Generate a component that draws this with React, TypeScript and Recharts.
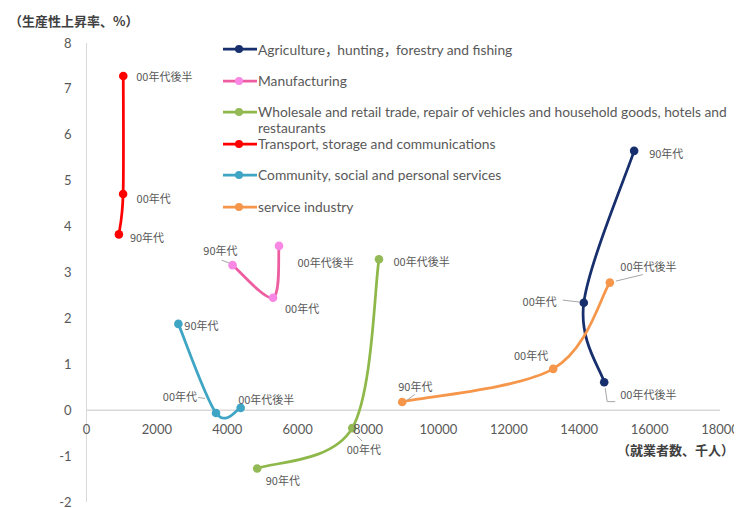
import React from 'react';
import { ScatterChart, Scatter, XAxis, YAxis, ReferenceLine, Legend } from 'recharts';

// Periods shared by every industry series
const periods = ['90年代', '00年代', '00年代後半'];

// Employed persons (thousands) and productivity growth (%) per industry
const agricultureWorkers = [15560, 14130, 14710];
const agricultureGrowth = [5.65, 2.34, 0.61];

const manufacturingWorkers = [4150, 5300, 5470];
const manufacturingGrowth = [3.16, 2.45, 3.58];

const wholesaleWorkers = [4850, 7550, 8310];
const wholesaleGrowth = [-1.27, -0.39, 3.29];

const transportWorkers = [920, 1040, 1045];
const transportGrowth = [3.83, 4.71, 7.28];

const communityWorkers = [2610, 3680, 4380];
const communityGrowth = [1.88, -0.06, 0.05];

const serviceWorkers = [8970, 13260, 14870];
const serviceGrowth = [0.18, 0.9, 2.78];

const xTicks = [0, 2000, 4000, 6000, 8000, 10000, 12000, 14000, 16000, 18000];
const yTicks = [-2, -1, 0, 1, 2, 3, 4, 5, 6, 7, 8];

const X_MIN = 0;
const X_MAX = 18000;
const Y_MIN = -2;
const Y_MAX = 8;

// Layout
const CHART_W = 734;
const CHART_H = 500;
const X_AXIS_H = 1;
const MARGIN = { top: 35, right: 22, bottom: 5, left: 0 };
const Y_AXIS_W = 78.5;
const PLOT_H = CHART_H - MARGIN.top - MARGIN.bottom - X_AXIS_H;
const ZERO_Y = MARGIN.top + (PLOT_H * (Y_MAX - 0)) / (Y_MAX - Y_MIN);

const GRAY_TEXT = '#595959';
const LEADER = '#A6A6A6';
const CJK = '"Noto Sans CJK JP", "Noto Sans", sans-serif';
const LATIN = 'Lato, "Liberation Sans", sans-serif';

type Placement = {
  dx: number;
  dy: number;
  anchor: 'start' | 'end';
  leader?: [number, number][];
};

// Where each period label sits relative to its marker
const labelPlacement: Record<string, Placement[]> = {
  agriculture: [
    { dx: 15, dy: 2, anchor: 'start' },
    { dx: -27, dy: -2, anchor: 'end', leader: [[-21, -2.7], [-4, -0.7]] },
    { dx: 16, dy: 12, anchor: 'start', leader: [[1, 6], [3, 19.4], [11, 19.4]] },
  ],
  manufacturing: [
    { dx: 5, dy: -15, anchor: 'end', leader: [[-11, -5], [-3, -2]] },
    { dx: 12, dy: 10.5, anchor: 'start' },
    { dx: 18.5, dy: 16, anchor: 'start' },
  ],
  wholesale: [
    { dx: 8.5, dy: 11.5, anchor: 'start' },
    { dx: -5.5, dy: 21, anchor: 'start', leader: [[5, 8], [10, 13]] },
    { dx: 14.5, dy: 1.5, anchor: 'start' },
  ],
  transport: [
    { dx: 11, dy: 3, anchor: 'start' },
    { dx: 13.5, dy: 4, anchor: 'start' },
    { dx: 13, dy: 0, anchor: 'start' },
  ],
  community: [
    { dx: 6, dy: 1.5, anchor: 'start' },
    { dx: -19, dy: -16.5, anchor: 'end', leader: [[-18, -15.5], [-11, -14.5]] },
    { dx: -2.5, dy: -9, anchor: 'start' },
  ],
  service: [
    { dx: -4, dy: -15.5, anchor: 'start', leader: [[12.5, -7.5], [4.5, -1.5]] },
    { dx: -5, dy: -14, anchor: 'end' },
    { dx: 10.5, dy: -16.5, anchor: 'start', leader: [[6, -1.5], [33, -8]] },
  ],
};

type Series = {
  key: string;
  name: string[];
  line: string;
  marker: string;
  workers: number[];
  growth: number[];
};

const series: Series[] = [
  { key: 'agriculture', name: ['Agriculture，hunting，forestry and fishing'], line: '#172F6C', marker: '#172F6C', workers: agricultureWorkers, growth: agricultureGrowth },
  { key: 'manufacturing', name: ['Manufacturing'], line: '#EC5E9F', marker: '#F988E4', workers: manufacturingWorkers, growth: manufacturingGrowth },
  { key: 'wholesale', name: ['Wholesale and retail trade, repair of vehicles and household goods, hotels and', 'restaurants'], line: '#8FB84B', marker: '#93BA56', workers: wholesaleWorkers, growth: wholesaleGrowth },
  { key: 'transport', name: ['Transport, storage and communications'], line: '#FF0000', marker: '#FF0000', workers: transportWorkers, growth: transportGrowth },
  { key: 'community', name: ['Community, social and personal services'], line: '#3FA5C4', marker: '#3FA5C4', workers: communityWorkers, growth: communityGrowth },
  { key: 'service', name: ['service industry'], line: '#F5964A', marker: '#F5964A', workers: serviceWorkers, growth: serviceGrowth },
];

const toPoints = (s: Series) =>
  periods.map((period, index) => ({ period, index, x: s.workers[index], y: s.growth[index] }));

// Smoothed connector through the points (Catmull-Rom as cubic Béziers)
function smoothCurve(context: any) {
  let pts: [number, number][] = [];
  return {
    areaStart() {},
    areaEnd() {},
    lineStart() {
      pts = [];
    },
    point(x: number, y: number) {
      pts.push([+x, +y]);
    },
    lineEnd() {
      if (!pts.length) return;
      context.moveTo(pts[0][0], pts[0][1]);
      for (let i = 0; i < pts.length - 1; i++) {
        const p0 = pts[Math.max(i - 1, 0)];
        const p1 = pts[i];
        const p2 = pts[i + 1];
        const p3 = pts[Math.min(i + 2, pts.length - 1)];
        context.bezierCurveTo(
          p1[0] + (p2[0] - p0[0]) / 6,
          p1[1] + (p2[1] - p0[1]) / 6,
          p2[0] - (p3[0] - p1[0]) / 6,
          p2[1] - (p3[1] - p1[1]) / 6,
          p2[0],
          p2[1]
        );
      }
    },
  };
}

const makeShape = (s: Series) => (props: any) => {
  const { cx, cy, payload } = props;
  if (cx == null || cy == null || !payload) return <g />;
  const pl = labelPlacement[s.key][payload.index];
  return (
    <g>
      <circle cx={cx} cy={cy} r={4.3} fill={s.marker} />
      {pl.leader && (
        <polyline
          points={pl.leader.map(([a, b]) => `${cx + a},${cy + b}`).join(' ')}
          fill="none"
          stroke={LEADER}
          strokeWidth={1}
        />
      )}
      <text
        x={cx + pl.dx}
        y={cy + pl.dy}
        textAnchor={pl.anchor}
        dominantBaseline="central"
        fontSize={11}
        fontFamily={CJK}
        fill={GRAY_TEXT}
      >
        {payload.period}
      </text>
    </g>
  );
};

const XTick = (props: any) => (
  <text
    x={props.x}
    y={ZERO_Y + 24}
    textAnchor="middle"
    fontSize={13}
    fontFamily={LATIN}
    fill={GRAY_TEXT}
  >
    {props.payload.value}
  </text>
);

const YTick = (props: any) => (
  <text
    x={Y_AXIS_W - 15}
    y={props.y + 4.5}
    textAnchor="end"
    fontSize={13}
    fontFamily={LATIN}
    fill={GRAY_TEXT}
  >
    {props.payload.value}
  </text>
);

// Full-width commas keep the Japanese glyph shape
const renderLegendName = (text: string) =>
  text.split('，').flatMap((part, i) =>
    i === 0
      ? [part]
      : [
          <span key={i} style={{ fontFamily: '"Noto Sans CJK JP"', letterSpacing: -1.5 }}>
            ，
          </span>,
          part,
        ]
  );

const LegendContent = () => (
  <div style={{ fontFamily: LATIN, fontSize: 13.8, color: GRAY_TEXT }}>
    {series.map((s) => (
      <div key={s.key} style={{ position: 'relative', height: 31.5 }}>
        <svg width={34} height={10} style={{ position: 'absolute', left: 0, top: 0 }}>
          <line x1={0} y1={5} x2={34} y2={5} stroke={s.line} strokeWidth={2.75} />
          <circle cx={16} cy={5} r={4} fill={s.marker} />
        </svg>
        <div
          style={{
            position: 'absolute',
            left: 35,
            top: -3,
            lineHeight: '16px',
            whiteSpace: 'nowrap',
          }}
        >
          {s.name.map((line, i) => (
            <div key={i}>{renderLegendName(line)}</div>
          ))}
        </div>
      </div>
    ))}
  </div>
);

export default function App() {
  return (
    <div style={{ position: 'relative', width: CHART_W, height: CHART_H }}>
      <ScatterChart width={CHART_W} height={CHART_H} margin={MARGIN}>
        <XAxis
          type="number"
          dataKey="x"
          domain={[X_MIN, X_MAX]}
          ticks={xTicks}
          interval={0}
          height={X_AXIS_H}
          axisLine={false}
          tickLine={false}
          tick={XTick}
        />
        <YAxis
          type="number"
          dataKey="y"
          domain={[Y_MIN, Y_MAX]}
          ticks={yTicks}
          interval={0}
          width={Y_AXIS_W}
          axisLine={{ stroke: '#D9D9D9', strokeWidth: 1 }}
          tickLine={false}
          tick={YTick}
        />
        <ReferenceLine y={0} stroke="#D9D9D9" strokeWidth={1.5} />
        <Legend
          layout="vertical"
          align="center"
          verticalAlign="middle"
          content={LegendContent}
          wrapperStyle={{ position: 'absolute', top: 36, left: 215, width: 520 }}
        />
        {series.map((s) => (
          <Scatter
            key={s.key}
            name={s.name.join(' ')}
            data={toPoints(s)}
            fill={s.marker}
            line={{ stroke: s.line, strokeWidth: 2.75 }}
            lineJointType={smoothCurve as any}
            shape={makeShape(s)}
            isAnimationActive={false}
          />
        ))}
      </ScatterChart>
      <div
        style={{
          position: 'absolute',
          left: 1,
          top: 3,
          fontFamily: CJK,
          fontSize: 13,
          fontWeight: 700,
          color: '#404040',
          whiteSpace: 'nowrap',
        }}
      >
        （生産性上昇率、%）
      </div>
      <div
        style={{
          position: 'absolute',
          right: 8,
          top: 432,
          fontFamily: CJK,
          fontSize: 13,
          fontWeight: 700,
          color: '#404040',
          whiteSpace: 'nowrap',
        }}
      >
        （就業者数、千人）
      </div>
    </div>
  );
}
